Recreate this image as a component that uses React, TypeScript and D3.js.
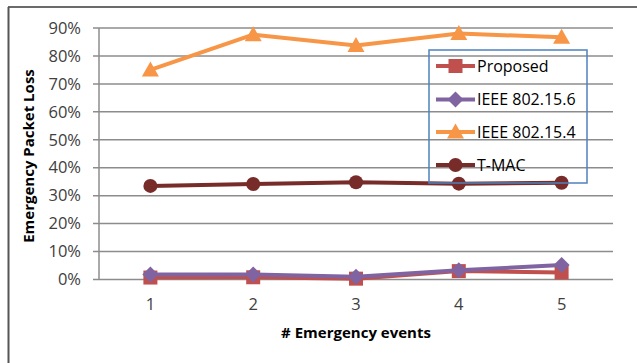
import React from "react";
import * as d3 from "d3";

const categories = ["1", "2", "3", "4", "5"];
const yTicks = [0, 0.1, 0.2, 0.3, 0.4, 0.5, 0.6, 0.7, 0.8, 0.9];
const proposed = [0.007, 0.008, 0.003, 0.03, 0.025];
const ieee156 = [0.018, 0.018, 0.01, 0.033, 0.052];
const ieee154 = [0.75, 0.876, 0.837, 0.88, 0.867];
const tmac = [0.335, 0.342, 0.348, 0.343, 0.346];
const seriesNames = ["Proposed", "IEEE 802.15.6", "IEEE 802.15.4", "T-MAC"];

const W = 637, H = 363;
const left = 99, right = 613, top = 28, bottom = 279.5;
const font = "'Open Sans', 'Noto Sans', sans-serif";

type S = { name: string; values: number[]; color: string; marker: string };
const series: S[] = [
  { name: seriesNames[0], values: proposed, color: "#C0504D", marker: "square" },
  { name: seriesNames[1], values: ieee156, color: "#8064A2", marker: "diamond" },
  { name: seriesNames[2], values: ieee154, color: "#F79646", marker: "triangle" },
  { name: seriesNames[3], values: tmac, color: "#772C2A", marker: "circle" },
];

function Marker({ type, x, y, color }: { type: string; x: number; y: number; color: string }) {
  if (type === "square") return <rect x={x - 7} y={y - 7} width={14} height={14} fill={color} />;
  if (type === "diamond") return <path d={`M${x},${y - 8}L${x + 8},${y}L${x},${y + 8}L${x - 8},${y}Z`} fill={color} />;
  if (type === "triangle") return <path d={`M${x},${y - 8.5}L${x + 8.5},${y + 6.5}L${x - 8.5},${y + 6.5}Z`} fill={color} />;
  return <circle cx={x} cy={y} r={7} fill={color} />;
}

export default function App() {
  const x = d3.scaleBand<string>().domain(categories).range([left, right]);
  const y = d3.scaleLinear().domain([0, 0.9]).range([bottom, top]);
  const line = d3.line<number>().x((_, i) => (x(categories[i]) as number) + x.bandwidth() / 2).y((d) => y(d));
  const fmt = d3.format(".0%");
  const legendX = 429, legendY = 50, legendW = 158, legendH = 133;
  const legendRows = [66, 99.5, 132, 165];
  return (
    <svg width={W} height={H} style={{ position: "absolute", left: 0, top: 0 }}>
      <rect x={0} y={0} width={W} height={H} fill="#fff" />
      <line x1={8} y1={7} x2={W} y2={7} stroke="#3a3a3a" strokeWidth={1.5} />
      <line x1={8.5} y1={7} x2={8.5} y2={H} stroke="#555" strokeWidth={2} />
      {yTicks.map((t) => (
        <g key={t}>
          <line x1={93} x2={right} y1={y(t)} y2={y(t)} stroke="#8c8c8c" strokeWidth={1.5} />
          <text x={81} y={y(t)} dy="0.35em" textAnchor="end" fontFamily={font} fontSize={16.5} fill="#404040">
            {fmt(t)}
          </text>
        </g>
      ))}
      <line x1={left} x2={left} y1={top} y2={bottom} stroke="#8c8c8c" strokeWidth={1.5} />
      {categories.map((c) => (
        <text key={c} x={(x(c) as number) + x.bandwidth() / 2} y={304} dy="0.35em" textAnchor="middle" fontFamily={font} fontSize={16.5} fill="#404040">
          {c}
        </text>
      ))}
      <text x={356} y={333} dy="0.35em" textAnchor="middle" fontFamily={font} fontSize={15} fontWeight="bold" fill="#000">
        # Emergency events
      </text>
      <text transform={`translate(29,156) rotate(-90)`} dy="0.35em" textAnchor="middle" fontFamily={font} fontSize={15} fontWeight="bold" fill="#000">
        Emergency Packet Loss
      </text>
      {series.map((s) => (
        <g key={s.name}>
          <path d={line(s.values) as string} fill="none" stroke={s.color} strokeWidth={4} strokeLinejoin="round" />
          {s.values.map((v, i) => (
            <Marker key={i} type={s.marker} x={(x(categories[i]) as number) + x.bandwidth() / 2} y={y(v)} color={s.color} />
          ))}
        </g>
      ))}
      <rect x={legendX} y={legendY} width={legendW} height={legendH} fill="none" stroke="#4F81BD" strokeWidth={1.5} />
      {series.map((s, i) => (
        <g key={s.name}>
          <line x1={436} x2={475} y1={legendRows[i]} y2={legendRows[i]} stroke={s.color} strokeWidth={4} />
          <Marker type={s.marker} x={455.5} y={legendRows[i]} color={s.color} />
          <text x={477} y={legendRows[i]} dy="0.35em" fontFamily={font} fontSize={16} fill="#000">
            {s.name}
          </text>
        </g>
      ))}
    </svg>
  );
}
